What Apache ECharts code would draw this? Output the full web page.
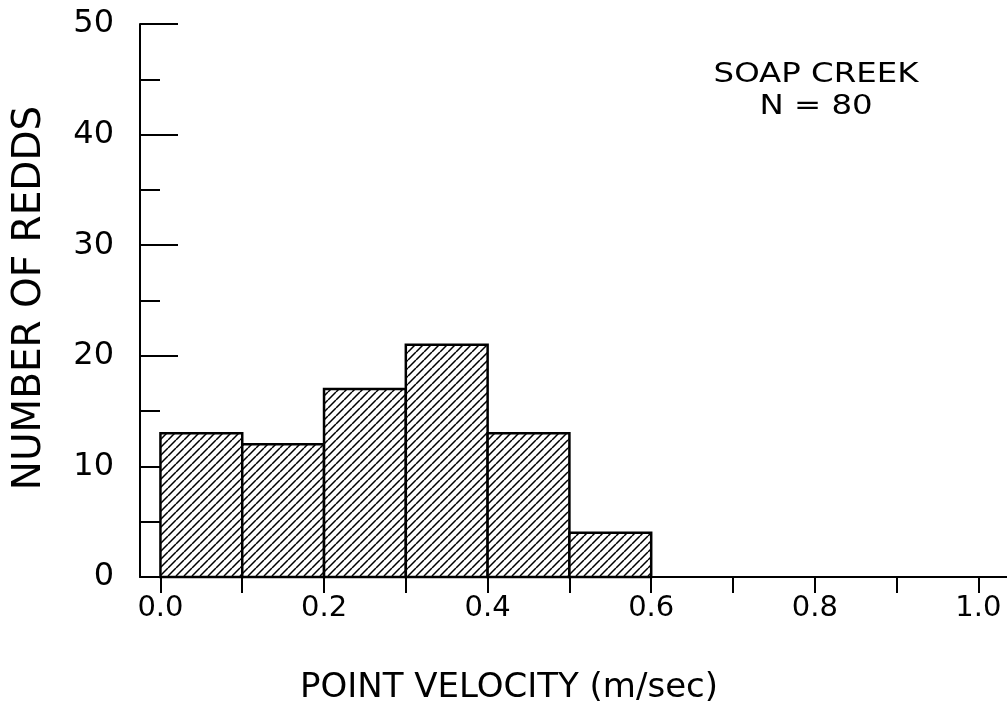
<!DOCTYPE html>
<html>
<head>
<meta charset="utf-8">
<script src="https://cdn.jsdelivr.net/npm/echarts@6/dist/echarts.min.js"></script>
<style>
  html, body { margin: 0; padding: 0; background: #fff; }
  #chart { width: 1007px; height: 710px; }
</style>
</head>
<body>
<div id="chart"></div>
<script>
// Histogram of redd counts by point velocity bin
const binStarts = [0.0, 0.1, 0.2, 0.3, 0.4, 0.5];
const binEnds   = [0.1, 0.2, 0.3, 0.4, 0.5, 0.6];
const counts    = [13, 12, 17, 21, 13, 4];
const xTicks    = [0, 0.1, 0.2, 0.3, 0.4, 0.5, 0.6, 0.7, 0.8, 0.9, 1.0];
const xLabels   = [0, 0.2, 0.4, 0.6, 0.8, 1.0];
const siteName  = 'SOAP CREEK';
const sampleN   = 80;
const xTitle    = 'POINT VELOCITY (m/sec)';
const yTitle    = 'NUMBER OF REDDS';

const FONT = '"DejaVu Sans", "Liberation Sans", sans-serif';

// Diagonal hatch tile
function hatchTile() {
  const s = 8;
  const c = document.createElement('canvas');
  c.width = s; c.height = s;
  const ctx = c.getContext('2d');
  ctx.fillStyle = '#fff';
  ctx.fillRect(0, 0, s, s);
  ctx.strokeStyle = '#000';
  ctx.lineWidth = 1.5;
  ctx.beginPath();
  for (const k of [-s, 0, s]) {
    ctx.moveTo(k, s);
    ctx.lineTo(k + s, 0);
  }
  ctx.stroke();
  return c;
}
const hatch = { image: hatchTile(), repeat: 'repeat' };

const data = binStarts.map((b, i) => [b, binEnds[i], counts[i]]);

const chart = echarts.init(document.getElementById('chart'), null, { renderer: 'canvas' });
chart.setOption({
  animation: false,
  backgroundColor: '#fff',
  grid: { left: 140, right: 0, top: 24, bottom: 133, outerBoundsMode: 'none', containLabel: false },
  xAxis: {
    type: 'value',
    min: -0.025,
    max: 1.035,
    splitLine: { show: false },
    axisLine: { show: true, onZero: false, lineStyle: { color: '#000', width: 2 } },
    axisTick: {
      show: true, length: 16, customValues: xTicks,
      lineStyle: { color: '#000', width: 2 }
    },
    axisLabel: {
      customValues: xLabels, margin: 17,
      formatter: v => Number(v).toFixed(1),
      color: '#000', fontSize: 29, fontFamily: FONT
    }
  },
  yAxis: {
    type: 'value',
    min: 0,
    max: 50,
    interval: 10,
    splitLine: { show: false },
    axisLine: { show: true, onZero: false, lineStyle: { color: '#000', width: 2 } },
    axisTick: { show: true, inside: true, length: 38, lineStyle: { color: '#000', width: 2 } },
    minorTick: { show: true, splitNumber: 2, length: 20, lineStyle: { color: '#000', width: 2 } },
    axisLabel: { margin: 26, color: '#000', fontSize: 32, fontFamily: FONT }
  },
  graphic: [
    {
      type: 'text',
      x: 816,
      y: 91,
      scaleX: 1.2,
      style: {
        text: siteName + '\nN = ' + sampleN,
        textAlign: 'center',
        textVerticalAlign: 'middle',
        fill: '#000',
        fontSize: 27,
        lineHeight: 32,
        fontFamily: FONT
      }
    },
    {
      type: 'text',
      x: 509,
      y: 688,
      style: {
        text: xTitle,
        textAlign: 'center',
        textVerticalAlign: 'middle',
        fill: '#000',
        fontSize: 34,
        fontFamily: FONT
      }
    },
    {
      type: 'text',
      x: 30,
      y: 298,
      rotation: Math.PI / 2,
      style: {
        text: yTitle,
        textAlign: 'center',
        textVerticalAlign: 'middle',
        fill: '#000',
        fontSize: 39,
        fontFamily: FONT
      }
    }
  ],
  series: [{
    type: 'custom',
    data: data,
    encode: { x: [0, 1], y: 2 },
    renderItem: function (params, api) {
      const x0 = api.value(0), x1 = api.value(1), v = api.value(2);
      const pTop = api.coord([x0, v]);
      const pBot = api.coord([x1, 0]);
      return {
        type: 'rect',
        shape: { x: pTop[0], y: pTop[1], width: pBot[0] - pTop[0], height: pBot[1] - pTop[1] },
        style: { fill: hatch, stroke: '#000', lineWidth: 2.5 }
      };
    }
  }]
});
</script>
</body>
</html>
